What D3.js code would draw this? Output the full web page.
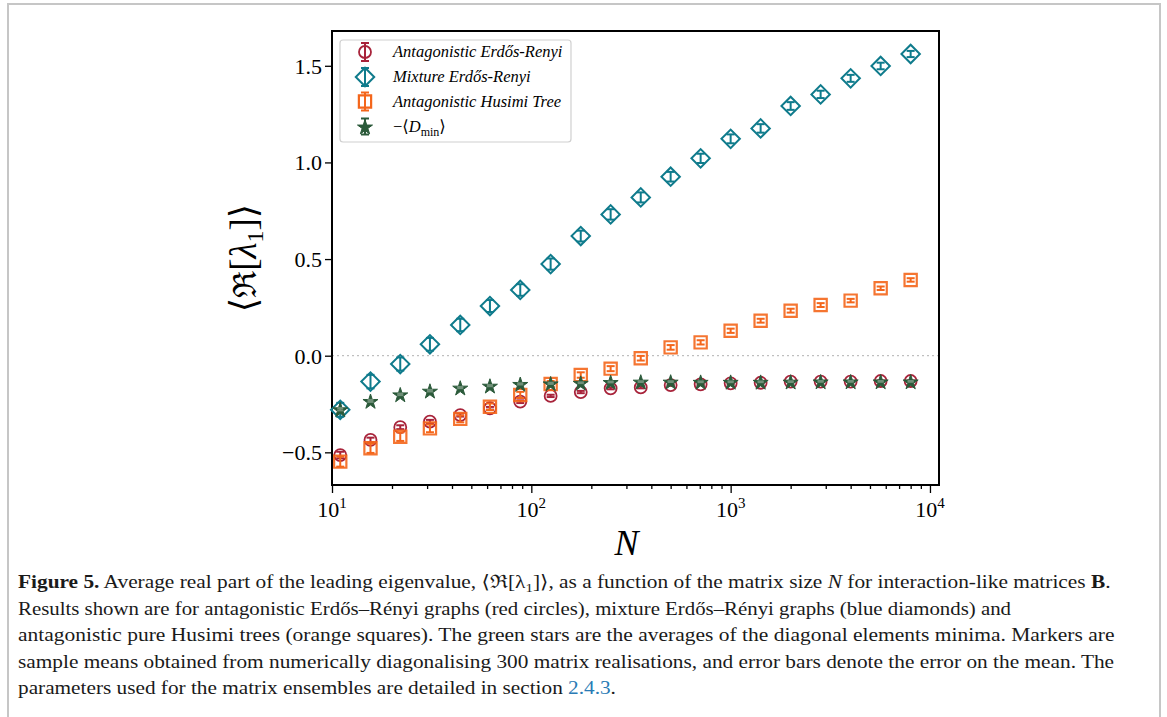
<!DOCTYPE html>
<html>
<head>
<meta charset="utf-8">
<script src="https://cdn.jsdelivr.net/npm/d3@7"></script>
<style>
  body { margin: 0; background: #fff; }
  svg { display: block; }
</style>
</head>
<body>
<div id="chart"></div>
<script>
// Matrix sizes N
var sizes = [11, 15.6, 22, 31, 44, 62, 88, 125, 177, 250, 354, 500, 707, 1000, 1414, 2000, 2828, 4000, 5657, 8000];

// Antagonistic Erdos-Renyi (red circles)
var antagER = [-0.514, -0.436, -0.37, -0.341, -0.307, -0.272, -0.238, -0.208, -0.188, -0.169, -0.164, -0.152, -0.148, -0.143, -0.14, -0.134, -0.134, -0.134, -0.131, -0.131];
var antagERerr = [0.017, 0.012, 0.01, 0.009, 0.008, 0.007, 0.007, 0.006, 0.006, 0.005, 0.005, 0.004, 0.004, 0.004, 0.003, 0.003, 0.003, 0.003, 0.003, 0.003];

// Mixture Erdos-Renyi (blue diamonds)
var mixER = [-0.28, -0.134, -0.043, 0.059, 0.159, 0.257, 0.34, 0.474, 0.619, 0.731, 0.819, 0.926, 1.021, 1.122, 1.176, 1.292, 1.352, 1.435, 1.499, 1.561];
var mixERerr = [0.036, 0.035, 0.034, 0.033, 0.032, 0.031, 0.03, 0.029, 0.028, 0.027, 0.026, 0.025, 0.024, 0.023, 0.022, 0.02, 0.019, 0.018, 0.017, 0.016];

// Antagonistic Husimi tree (orange squares)
var husimi = [-0.548, -0.479, -0.419, -0.376, -0.327, -0.264, -0.203, -0.146, -0.1, -0.067, -0.013, 0.043, 0.069, 0.129, 0.181, 0.233, 0.262, 0.285, 0.349, 0.392];
var husimiErr = [0.026, 0.024, 0.022, 0.02, 0.018, 0.017, 0.016, 0.015, 0.014, 0.013, 0.012, 0.012, 0.011, 0.011, 0.01, 0.01, 0.01, 0.009, 0.009, 0.009];

// minus mean of diagonal minima (green stars)
var dmin = [-0.277, -0.234, -0.2, -0.181, -0.165, -0.155, -0.146, -0.143, -0.14, -0.136, -0.134, -0.134, -0.135, -0.135, -0.135, -0.134, -0.133, -0.133, -0.133, -0.133];
var dminErr = [0.006, 0.005, 0.004, 0.004, 0.003, 0.003, 0.003, 0.003, 0.002, 0.002, 0.002, 0.002, 0.002, 0.002, 0.002, 0.002, 0.002, 0.002, 0.002, 0.002];

var yTicks = [-0.5, 0.0, 0.5, 1.0, 1.5];
var yTickLabels = ["\u22120.5", "0.0", "0.5", "1.0", "1.5"];
var xTicks = [10, 100, 1000, 10000];
var xTickExp = ["1", "2", "3", "4"];

var legendLabels = ["Antagonistic Erd\u0151s-Renyi", "Mixture Erd\u0151s-Renyi", "Antagonistic Husimi Tree"];

var captionLines = [
  [["Figure 5.", "b"], [" Average real part of the leading eigenvalue, \u27E8\u211C[\u03BB", ""], ["1", "sub"], ["]\u27E9, as a function of the matrix size ", ""], ["N", "i"], [" for interaction-like matrices ", ""], ["B", "b"], [".", ""]],
  [["Results shown are for antagonistic Erd\u0151s\u2013R\u00E9nyi graphs (red circles), mixture Erd\u0151s\u2013R\u00E9nyi graphs (blue diamonds) and", ""]],
  [["antagonistic pure Husimi trees (orange squares). The green stars are the averages of the diagonal elements minima. Markers are", ""]],
  [["sample means obtained from numerically diagonalising 300 matrix realisations, and error bars denote the error on the mean. The", ""]],
  [["parameters used for the matrix ensembles are detailed in section ", ""], ["2.4.3", "link"], [".", ""]]
];
var captionWidths = [1094, 994, 1097, 1097, null];

var svgWidth = 1167;
var svgHeight = 717;

var margin = {left: 332, right: 228, top: 31, bottom: 232};
var width = svgWidth - margin.left - margin.right;
var height = svgHeight - margin.top - margin.bottom;

var red = "#a8233a", teal = "#0f7b8c", orange = "#f4661b", green = "#2b5a3a";
var serif = "'Liberation Serif', 'DejaVu Serif', serif";

var svg = d3.select("#chart").append("svg")
  .attr("width", svgWidth)
  .attr("height", svgHeight);

// page frame
svg.append("rect")
  .attr("x", 8).attr("y", 4)
  .attr("width", 1152).attr("height", 740)
  .attr("fill", "none").attr("stroke", "#c6c6c6").attr("stroke-width", 2);

var g = svg.append("g").attr("transform", "translate(" + margin.left + "," + margin.top + ")");

var x = d3.scaleLog().domain([10, 11100]).range([0, width]);
var y = d3.scaleLinear().domain([-0.669, 1.68]).range([height, 0]);

// zero line
g.append("line")
  .attr("x1", 0).attr("x2", width)
  .attr("y1", y(0)).attr("y2", y(0))
  .attr("stroke", "#b0b0b0").attr("stroke-width", 1)
  .attr("stroke-dasharray", "2,3");

// x axis
var xMinor = [];
[10, 100, 1000].forEach(function(d) {
  for (var k = 2; k <= 9; k++) xMinor.push(d * k);
});
var xAxisMinor = d3.axisBottom(x).tickValues(xMinor).tickSize(4).tickFormat("");
var xAxis = d3.axisBottom(x).tickValues(xTicks).tickSize(8).tickFormat("");

var gxm = g.append("g").attr("transform", "translate(0," + height + ")").call(xAxisMinor);
var gx = g.append("g").attr("transform", "translate(0," + height + ")").call(xAxis);
[gxm, gx].forEach(function(a) {
  a.select(".domain").remove();
  a.selectAll(".tick line").attr("stroke", "#000").attr("stroke-width", 1.3);
});

var xl = g.selectAll(".xlab").data(xTicks).enter().append("text")
  .attr("class", "xlab")
  .attr("x", function(d) { return x(d); })
  .attr("y", height + 32)
  .attr("text-anchor", "middle")
  .attr("font-family", serif)
  .attr("font-size", 22);
xl.append("tspan").text("10");
xl.append("tspan").attr("dy", -9).attr("font-size", 15).text(function(d, i) { return xTickExp[i]; });

// y axis
var yAxis = d3.axisLeft(y).tickValues(yTicks).tickSize(7).tickFormat(function(d, i) { return yTickLabels[i]; });
var gy = g.append("g").call(yAxis);
gy.select(".domain").remove();
gy.selectAll(".tick line").attr("stroke", "#000").attr("stroke-width", 1.3);
gy.selectAll(".tick text")
  .attr("font-family", serif).attr("font-size", 22).attr("fill", "#000")
  .attr("x", -10).attr("dy", "0.34em");

// frame
g.append("rect")
  .attr("width", width).attr("height", height)
  .attr("fill", "none").attr("stroke", "#000").attr("stroke-width", 2);

// axis labels
var yl = svg.append("text")
  .attr("transform", "translate(256,258) rotate(-90)")
  .attr("text-anchor", "middle")
  .attr("font-family", serif)
  .attr("font-size", 37);
yl.append("tspan").text("\u27E8");
yl.append("tspan").attr("font-family", "'DejaVu Serif', serif").attr("font-size", 32).text("\u211C");
yl.append("tspan").text("[");
yl.append("tspan").attr("font-style", "italic").text("\u03BB");
yl.append("tspan").attr("font-size", 24).attr("dy", 7).text("1");
yl.append("tspan").attr("dy", -7).text("]\u27E9");

svg.append("text")
  .attr("x", margin.left + x(300)).attr("y", 555)
  .attr("text-anchor", "middle")
  .attr("font-family", serif)
  .attr("font-style", "italic")
  .attr("font-size", 36)
  .text("N");

// markers
function errorBars(sel, vals, errs, color, cap) {
  var eb = sel.append("g");
  sizes.forEach(function(n, i) {
    var cx = x(n), y1 = y(vals[i] - errs[i]), y2 = y(vals[i] + errs[i]);
    eb.append("line").attr("x1", cx).attr("x2", cx).attr("y1", y1).attr("y2", y2)
      .attr("stroke", color).attr("stroke-width", 2);
    [y1, y2].forEach(function(yy) {
      eb.append("line").attr("x1", cx - cap).attr("x2", cx + cap).attr("y1", yy).attr("y2", yy)
        .attr("stroke", color).attr("stroke-width", 2);
    });
  });
}

var circleG = g.append("g");
errorBars(circleG, antagER, antagERerr, red, 4);
circleG.selectAll("circle").data(antagER).enter().append("circle")
  .attr("cx", function(d, i) { return x(sizes[i]); })
  .attr("cy", function(d) { return y(d); })
  .attr("r", 6)
  .attr("fill", "none").attr("stroke", red).attr("stroke-width", 1.8);

var diamondPath = d3.symbol(d3.symbolSquare, 170)();
var diaG = g.append("g");
errorBars(diaG, mixER, mixERerr, teal, 4);
diaG.selectAll("path.m").data(mixER).enter().append("path")
  .attr("class", "m")
  .attr("d", diamondPath)
  .attr("transform", function(d, i) { return "translate(" + x(sizes[i]) + "," + y(d) + ") rotate(45)"; })
  .attr("fill", "none").attr("stroke", teal).attr("stroke-width", 2);

var squarePath = d3.symbol(d3.symbolSquare, 150)();
var sqG = g.append("g");
errorBars(sqG, husimi, husimiErr, orange, 4);
sqG.selectAll("path.m").data(husimi).enter().append("path")
  .attr("class", "m")
  .attr("d", squarePath)
  .attr("transform", function(d, i) { return "translate(" + x(sizes[i]) + "," + y(d) + ")"; })
  .attr("fill", "none").attr("stroke", orange).attr("stroke-opacity", 0.9).attr("stroke-width", 2.2);

var starPath = d3.symbol(d3.symbolStar, 70)();
var stG = g.append("g");
stG.selectAll("path.m").data(dmin).enter().append("path")
  .attr("class", "m")
  .attr("d", starPath)
  .attr("transform", function(d, i) { return "translate(" + x(sizes[i]) + "," + (y(d) + 1) + ")"; })
  .attr("fill", green).attr("stroke", green).attr("stroke-width", 1);
errorBars(stG, dmin, dminErr, "#6f8f78", 3);

// legend
var lg = svg.append("g");
lg.append("rect")
  .attr("x", 340).attr("y", 40).attr("width", 231).attr("height", 102)
  .attr("rx", 3).attr("fill", "#fff").attr("stroke", "#d0d0d0").attr("stroke-width", 1.2);

var rowY = [52, 77, 101.5, 126.5];
var legColors = [red, teal, orange, green];
var mx = 365;
rowY.forEach(function(ry, i) {
  var c = legColors[i];
  if (i < 3) {
    lg.append("line").attr("x1", mx).attr("x2", mx).attr("y1", ry - 9).attr("y2", ry + 9)
      .attr("stroke", c).attr("stroke-width", 2);
    [ry - 9, ry + 9].forEach(function(yy) {
      lg.append("line").attr("x1", mx - 4).attr("x2", mx + 4).attr("y1", yy).attr("y2", yy)
        .attr("stroke", c).attr("stroke-width", 2);
    });
  }
  if (i == 0) {
    lg.append("circle").attr("cx", mx).attr("cy", ry).attr("r", 6)
      .attr("fill", "none").attr("stroke", c).attr("stroke-width", 1.8);
  } else if (i == 1) {
    lg.append("path").attr("d", diamondPath)
      .attr("transform", "translate(" + mx + "," + ry + ") rotate(45)")
      .attr("fill", "none").attr("stroke", c).attr("stroke-width", 2);
  } else if (i == 2) {
    lg.append("path").attr("d", squarePath)
      .attr("transform", "translate(" + mx + "," + ry + ")")
      .attr("fill", "none").attr("stroke", c).attr("stroke-width", 2.2);
  } else {
    lg.append("line").attr("x1", mx).attr("x2", mx).attr("y1", ry - 8).attr("y2", ry + 8)
      .attr("stroke", c).attr("stroke-width", 2);
    [ry - 8, ry + 8].forEach(function(yy) {
      lg.append("line").attr("x1", mx - 4).attr("x2", mx + 4).attr("y1", yy).attr("y2", yy)
        .attr("stroke", c).attr("stroke-width", 2);
    });
    lg.append("path").attr("d", starPath)
      .attr("transform", "translate(" + mx + "," + (ry + 1) + ")")
      .attr("fill", c).attr("stroke", c).attr("stroke-width", 1);
  }
  var t = lg.append("text")
    .attr("x", 393).attr("y", ry + 5)
    .attr("font-family", serif)
    .attr("font-size", 16.5);
  if (i < 3) {
    t.attr("font-style", "italic").text(legendLabels[i]);
  } else {
    t.append("tspan").text("\u2212\u27E8");
    t.append("tspan").attr("font-style", "italic").text("D");
    t.append("tspan").attr("font-size", 12).attr("dy", 4).text("min");
    t.append("tspan").attr("dy", -4).text("\u27E9");
  }
});

// caption, stretched horizontally to the reference line widths
var capY = [588, 614.5, 641, 667.5, 694];
var sxSum = 0, sxN = 0;
captionLines.forEach(function(segs, i) {
  var t = svg.append("text")
    .attr("x", 0).attr("y", 0)
    .attr("font-family", serif)
    .attr("font-size", 18.5)
    .attr("fill", "#1a1a1a");
  segs.forEach(function(s, j) {
    var ts = t.append("tspan").text(s[0]);
    if (s[1] == "b") ts.attr("font-weight", "bold");
    if (s[1] == "i") ts.attr("font-style", "italic");
    if (s[1] == "link") ts.attr("fill", "#2a7bb5");
    if (s[1] == "sub") ts.attr("font-size", 13).attr("dy", 4);
    if (j > 0 && segs[j - 1][1] == "sub") ts.attr("dy", -4);
  });
  var len = t.node().getComputedTextLength();
  var sx;
  if (captionWidths[i]) {
    sx = captionWidths[i] / len;
    sxSum += sx; sxN++;
  } else {
    sx = sxSum / sxN;
  }
  t.attr("transform", "translate(18," + capY[i] + ") scale(" + sx + ",1)");
});
</script>
</body>
</html>
